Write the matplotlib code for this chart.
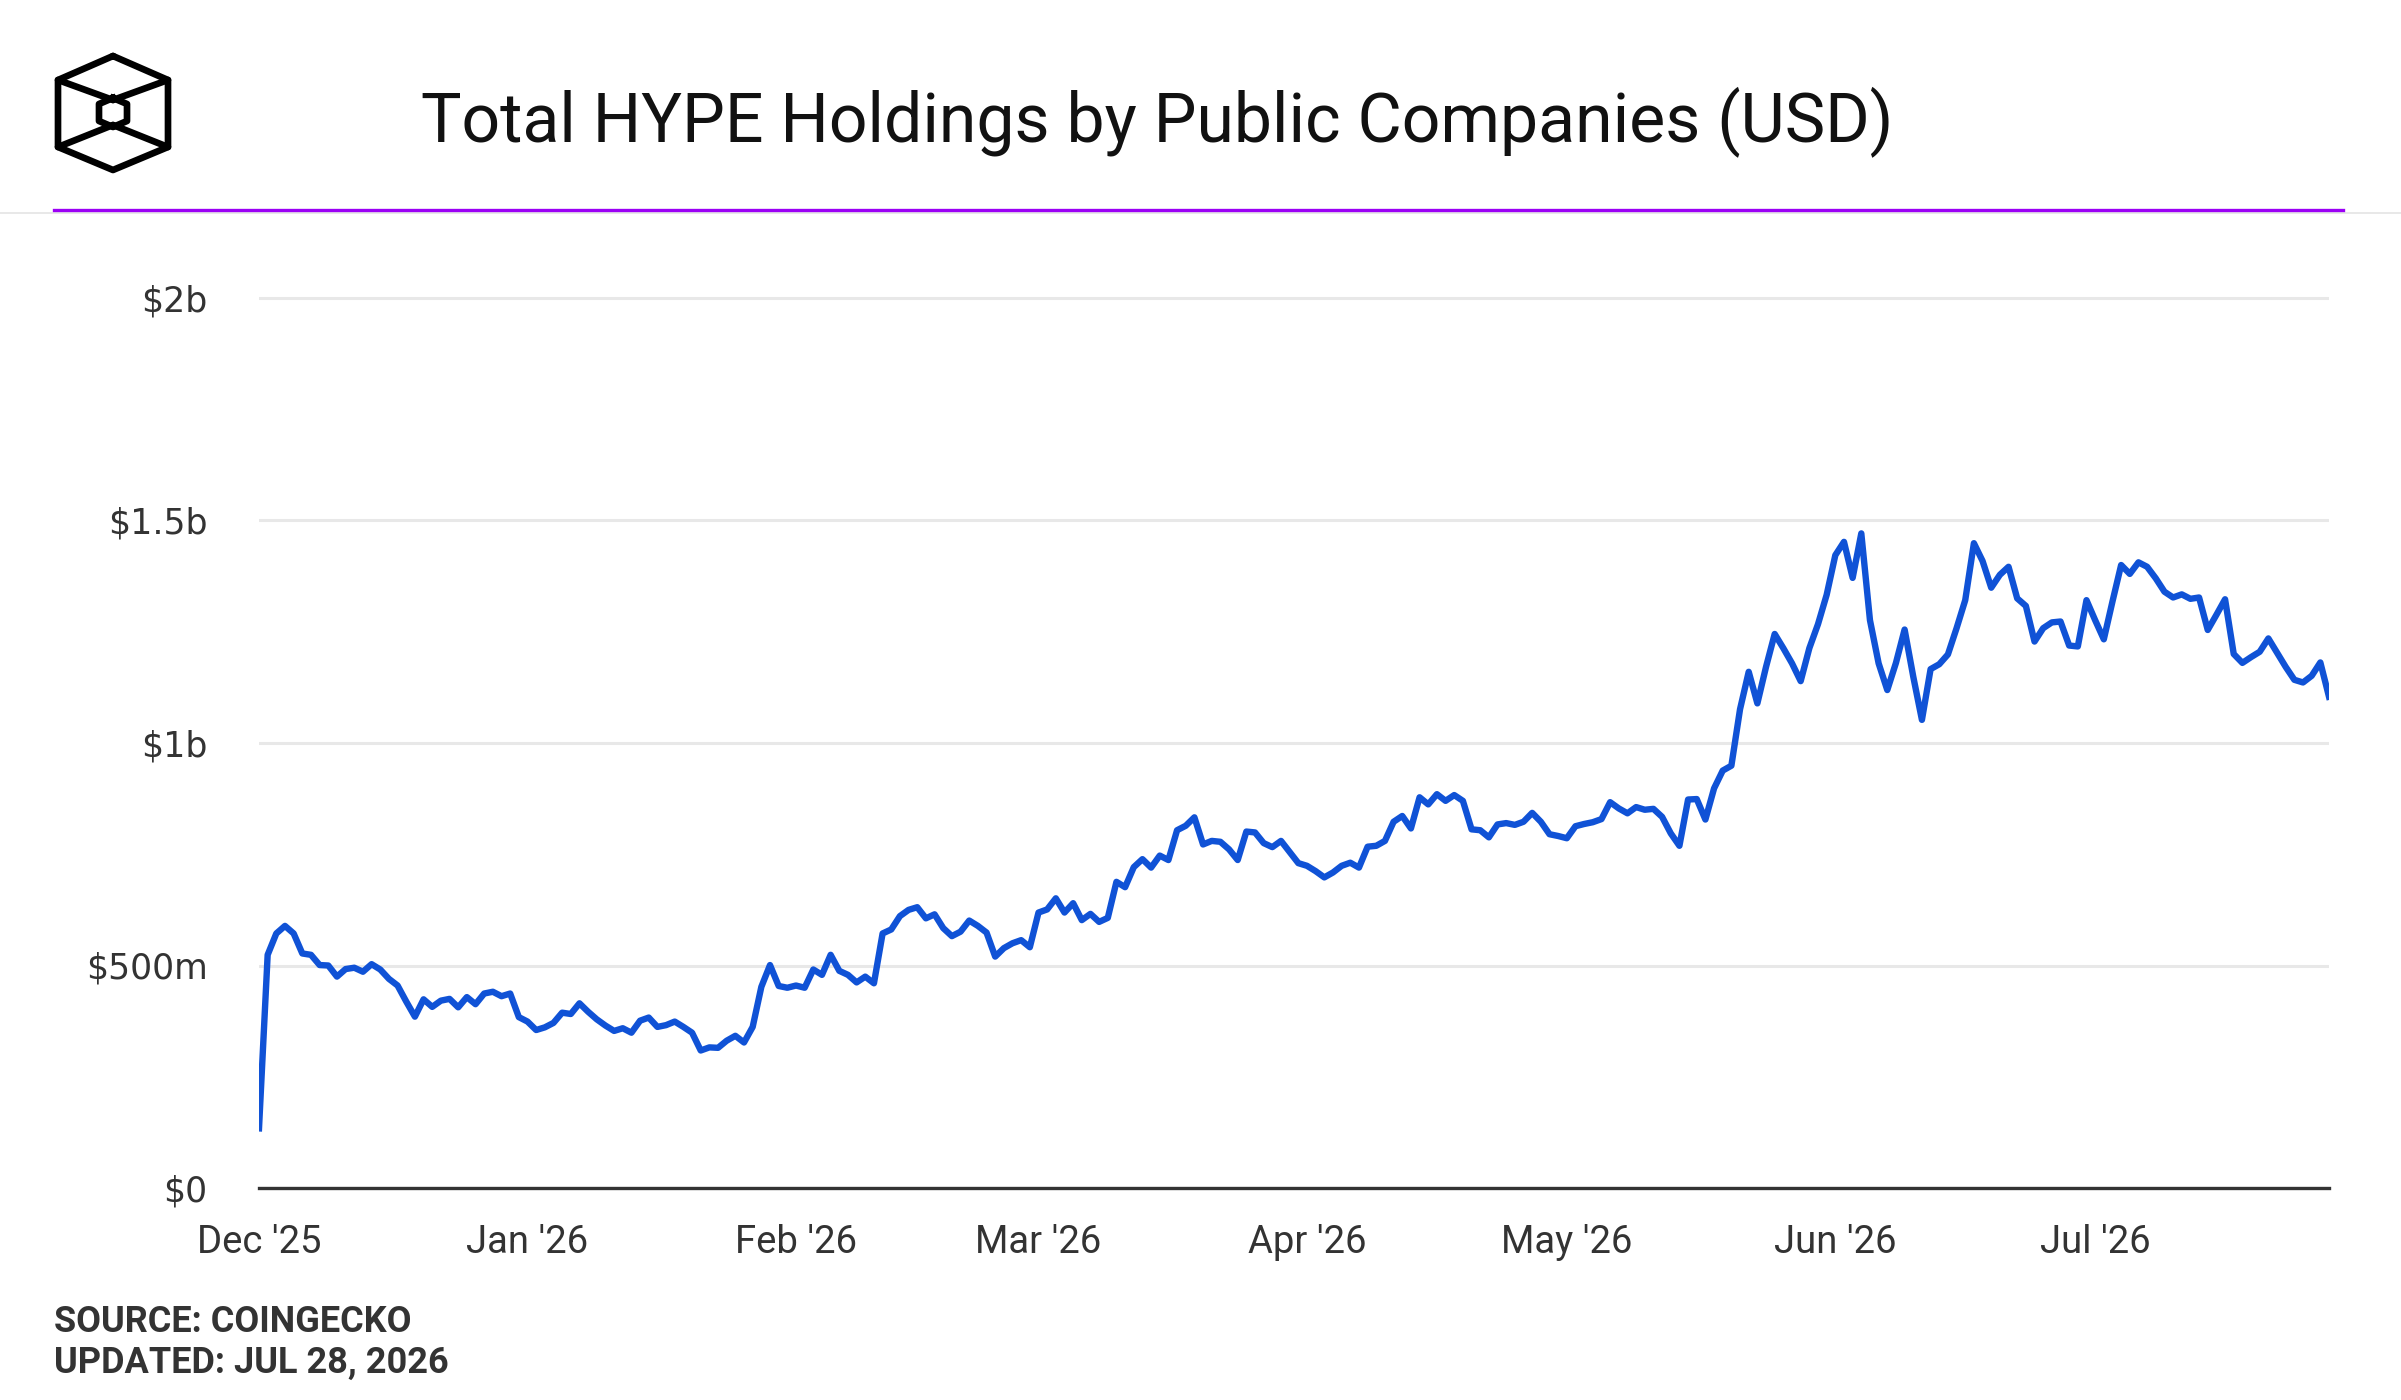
import matplotlib
matplotlib.use("Agg")
import matplotlib.pyplot as plt
import numpy as np
import pandas as pd

# daily total holdings, $ billions, Dec 1 2025 .. Jul 28 2026
start_date = "2025-12-01"
end_date = "2026-07-28"
holdings_bn = [
    0.134, 0.524, 0.572, 0.589, 0.572, 0.527, 0.524, 0.501, 0.500, 0.475,
    0.492, 0.495, 0.486, 0.503, 0.491, 0.470, 0.455, 0.419, 0.385, 0.424,
    0.407, 0.421, 0.425, 0.406, 0.429, 0.413, 0.437, 0.441, 0.431, 0.437,
    0.384, 0.374, 0.355, 0.361, 0.371, 0.394, 0.391, 0.415, 0.396, 0.379,
    0.365, 0.353, 0.359, 0.349, 0.376, 0.383, 0.362, 0.366, 0.374, 0.362,
    0.349, 0.309, 0.316, 0.315, 0.331, 0.342, 0.327, 0.362, 0.452, 0.501,
    0.454, 0.450, 0.455, 0.450, 0.491, 0.479, 0.524, 0.488, 0.479, 0.462,
    0.475, 0.460, 0.572, 0.581, 0.611, 0.625, 0.631, 0.606, 0.615, 0.584,
    0.566, 0.576, 0.601, 0.589, 0.574, 0.520, 0.539, 0.550, 0.557, 0.541,
    0.619, 0.626, 0.651, 0.619, 0.640, 0.602, 0.616, 0.598, 0.607, 0.688,
    0.676, 0.721, 0.739, 0.720, 0.747, 0.737, 0.804, 0.814, 0.833, 0.772,
    0.780, 0.778, 0.761, 0.737, 0.801, 0.799, 0.775, 0.766, 0.780, 0.755,
    0.730, 0.724, 0.712, 0.698, 0.709, 0.724, 0.731, 0.720, 0.767, 0.769,
    0.780, 0.823, 0.836, 0.808, 0.878, 0.862, 0.885, 0.870, 0.883, 0.870,
    0.806, 0.804, 0.788, 0.817, 0.820, 0.816, 0.823, 0.843, 0.823, 0.795,
    0.791, 0.786, 0.813, 0.818, 0.822, 0.829, 0.867, 0.853, 0.842, 0.856,
    0.850, 0.852, 0.834, 0.797, 0.769, 0.873, 0.874, 0.828, 0.898, 0.938,
    0.949, 1.076, 1.160, 1.089, 1.171, 1.245, 1.213, 1.179, 1.139, 1.213,
    1.267, 1.333, 1.422, 1.452, 1.371, 1.471, 1.276, 1.179, 1.119, 1.180,
    1.255, 1.149, 1.052, 1.166, 1.177, 1.199, 1.258, 1.321, 1.449, 1.409,
    1.349, 1.378, 1.396, 1.325, 1.308, 1.228, 1.258, 1.271, 1.273, 1.219,
    1.217, 1.321, 1.276, 1.233, 1.318, 1.400, 1.380, 1.406, 1.396, 1.370,
    1.340, 1.327, 1.334, 1.324, 1.327, 1.254, 1.288, 1.323, 1.200, 1.180,
    1.193, 1.205, 1.235, 1.203, 1.171, 1.142, 1.136, 1.151, 1.181, 1.104,
]
y_ticks = [0, 0.5, 1.0, 1.5, 2.0]
y_labels = ["$0", "$500m", "$1b", "$1.5b", "$2b"]
x_ticks = ["2025-12-01", "2026-01-01", "2026-02-01", "2026-03-01",
           "2026-04-01", "2026-05-01", "2026-06-01", "2026-07-01"]
x_labels = ["Dec '25", "Jan '26", "Feb '26", "Mar '26",
            "Apr '26", "May '26", "Jun '26", "Jul '26"]

title = "Total HYPE Holdings by Public Companies (USD)"
source = "SOURCE: COINGECKO"
updated = "UPDATED: JUL 28, 2026"

dates = pd.date_range(start_date, end_date, freq="D")

W, H = 2401, 1400
fig = plt.figure(figsize=(W / 100, H / 100), dpi=100)

# header / logo layer in pixel coordinates
deco = fig.add_axes([0, 0, 1, 1])
deco.set_xlim(0, W)
deco.set_ylim(H, 0)
deco.axis("off")

# logo: isometric box with small hexagon
lw_logo = 4.8
cx = 113
outer = [(cx, 56), (cx + 55, 80), (cx + 55, 147), (cx, 170),
         (cx - 55, 147), (cx - 55, 80), (cx, 56)]
deco.plot([p[0] for p in outer], [p[1] for p in outer], color="black",
          lw=lw_logo, solid_joinstyle="round", solid_capstyle="round")
hexs = [(cx, 98), (cx + 14, 104), (cx + 14, 121), (cx, 127),
        (cx - 14, 121), (cx - 14, 104), (cx, 98)]
deco.plot([p[0] for p in hexs], [p[1] for p in hexs], color="black",
          lw=lw_logo, solid_joinstyle="round")
for a, b in [((cx - 55, 80), (cx, 100)), ((cx + 55, 80), (cx, 100)),
             ((cx - 55, 147), (cx, 125)), ((cx + 55, 147), (cx, 125))]:
    deco.plot([a[0], b[0]], [a[1], b[1]], color="black", lw=lw_logo,
              solid_capstyle="round")

# separators
deco.plot([0, W], [213, 213], color="#e4e4e4", lw=1.2)
deco.plot([54, 2343], [210, 210], color="#9b00f5", lw=2.4)

deco.text(1157, 122, title, fontsize=49, family="Roboto", color="#111111",
          ha="center", va="center")
deco.text(54, 1322, source, fontsize=26, family="Roboto", weight="bold",
          color="#333333", ha="left", va="center")
deco.text(54, 1363, updated, fontsize=26, family="Roboto", weight="bold",
          color="#333333", ha="left", va="center")

# main chart
left = 259 / W
bottom = (H - 1188) / H
ytop = 2.03
height = 445 * ytop / H
ax = fig.add_axes([left, bottom, 2329 / W - left, height])
ax.plot(dates, holdings_bn, color="#1052d6", lw=4.6, solid_joinstyle="round",
        zorder=3)

ax.set_ylim(0, ytop)
ax.set_xlim(pd.Timestamp(start_date), pd.Timestamp(end_date))
ax.set_yticks(y_ticks)
ax.set_yticklabels(y_labels, family="DejaVu Sans", fontsize=25, color="#333333")
ax.set_xticks([pd.Timestamp(t) for t in x_ticks])
ax.set_xticklabels(x_labels, family="Roboto", fontsize=27.5, color="#333333")
ax.tick_params(axis="both", length=0)
ax.tick_params(axis="y", pad=37)
ax.tick_params(axis="x", pad=26)

ax.grid(axis="y", color="#e8e8e8", lw=2.2)
ax.set_axisbelow(True)
for s in ["top", "right", "left"]:
    ax.spines[s].set_visible(False)
ax.spines["bottom"].set_color("#333333")
ax.spines["bottom"].set_linewidth(2.4)
ax.spines["bottom"].set_zorder(4)

fig.savefig("out.png", dpi=100)
